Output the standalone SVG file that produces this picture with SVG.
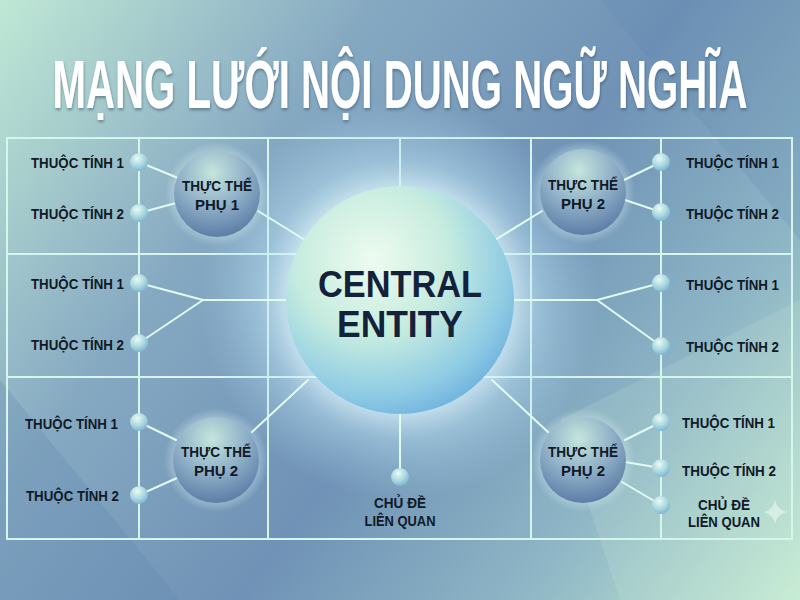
<svg xmlns="http://www.w3.org/2000/svg" width="800" height="600" viewBox="0 0 800 600">
  <defs>
    <linearGradient id="bg" x1="0" y1="0" x2="800" y2="600" gradientUnits="userSpaceOnUse">
      <stop offset="0" stop-color="#c0e8d5"/>
      <stop offset="0.3" stop-color="#86a9c2"/>
      <stop offset="0.55" stop-color="#6f92b6"/>
      <stop offset="0.78" stop-color="#8fb7c6"/>
      <stop offset="1" stop-color="#c6ecd3"/>
    </linearGradient>
    <radialGradient id="glow" cx="400" cy="300" r="200" gradientUnits="userSpaceOnUse">
      <stop offset="0.5" stop-color="#e8fbff" stop-opacity="0.9"/>
      <stop offset="0.7" stop-color="#bfe6f5" stop-opacity="0.45"/>
      <stop offset="1" stop-color="#a8d4ee" stop-opacity="0"/>
    </radialGradient>
    <radialGradient id="central" cx="0.38" cy="0.32" r="0.75">
      <stop offset="0" stop-color="#eefbef"/>
      <stop offset="0.45" stop-color="#c6ecdf"/>
      <stop offset="0.8" stop-color="#8ecbe4"/>
      <stop offset="1" stop-color="#6aaede"/>
    </radialGradient>
    <radialGradient id="sub" cx="0.45" cy="0.25" r="0.8">
      <stop offset="0" stop-color="#c5e6dc"/>
      <stop offset="0.5" stop-color="#8fb0c8"/>
      <stop offset="1" stop-color="#5776a2"/>
    </radialGradient>
    <radialGradient id="subglow" cx="0.5" cy="0.5" r="0.5">
      <stop offset="0.7" stop-color="#dff6f3" stop-opacity="0.5"/>
      <stop offset="1" stop-color="#dff6f3" stop-opacity="0"/>
    </radialGradient>
    <radialGradient id="dot" cx="0.4" cy="0.3" r="0.7">
      <stop offset="0" stop-color="#eafaf3"/>
      <stop offset="0.6" stop-color="#a9d8e0"/>
      <stop offset="1" stop-color="#7fb6d2"/>
    </radialGradient>
    <filter id="tshadow" x="-5%" y="-60%" width="110%" height="220%">
      <feDropShadow dx="1" dy="2" stdDeviation="1.5" flood-color="#2a3f5a" flood-opacity="0.5"/>
    </filter>
    <style>
      .grid { stroke: #d6f6ec; stroke-width: 2; fill: none; }
      .conn { stroke: #e0fbf2; stroke-width: 2; fill: none; stroke-linecap: round; }
      .lbl { font-family: "Liberation Sans", Arial, sans-serif; font-weight: bold; font-size: 15px; fill: #101a26; }
      .sublbl { font-family: "Liberation Sans", Arial, sans-serif; font-weight: bold; font-size: 15px; fill: #101a26; text-anchor: middle; }
      .dot { fill: url(#dot); }
      .sub { fill: url(#sub); }
    </style>
  </defs>

  <rect width="800" height="600" fill="url(#bg)"/>
  <polygon points="0,380 180,600 0,600" fill="#5d82ad" opacity="0.25"/>
  <polygon points="600,0 800,0 800,240" fill="#5f85b0" opacity="0.2"/>
  <polygon points="560,420 800,300 800,600 620,600" fill="#d4f2e0" opacity="0.15"/>

  <g transform="translate(400,108) scale(0.6,1)" filter="url(#tshadow)">
    <text x="0" y="0" text-anchor="middle" textLength="1158" lengthAdjust="spacingAndGlyphs" font-family="Liberation Sans, Arial, sans-serif" font-weight="bold" font-size="68" fill="#ffffff">MẠNG LƯỚI NỘI DUNG NGỮ NGHĨA</text>
  </g>

  <g id="grid">
    <rect x="7" y="138" width="785" height="401" class="grid"/>
    <line x1="139" y1="138" x2="139" y2="539" class="grid"/>
    <line x1="268" y1="138" x2="268" y2="539" class="grid"/>
    <line x1="531" y1="138" x2="531" y2="539" class="grid"/>
    <line x1="661" y1="138" x2="661" y2="539" class="grid"/>
    <line x1="7" y1="254" x2="792" y2="254" class="grid"/>
    <line x1="7" y1="377" x2="792" y2="377" class="grid"/>
    <line x1="400" y1="138" x2="400" y2="190" class="grid"/>
  </g>

  <circle cx="400" cy="300" r="200" fill="url(#glow)"/>

  <g id="connectors">
    <line x1="139" y1="162" x2="178" y2="178" class="conn"/>
    <line x1="139" y1="213" x2="176" y2="203" class="conn"/>
    <line x1="258" y1="211" x2="305" y2="240" class="conn"/>
    <line x1="661" y1="162" x2="624" y2="180" class="conn"/>
    <line x1="661" y1="212" x2="625" y2="200" class="conn"/>
    <line x1="542" y1="211" x2="495" y2="240" class="conn"/>
    <polyline points="290,300 203,300 139,283" class="conn"/>
    <line x1="203" y1="300" x2="139" y2="343" class="conn"/>
    <polyline points="510,300 597,300 661,283" class="conn"/>
    <line x1="597" y1="300" x2="661" y2="346" class="conn"/>
    <line x1="139" y1="422" x2="176" y2="440" class="conn"/>
    <line x1="139" y1="495" x2="177" y2="478" class="conn"/>
    <line x1="252" y1="432" x2="308" y2="380" class="conn"/>
    <line x1="548" y1="432" x2="492" y2="380" class="conn"/>
    <line x1="661" y1="422" x2="625" y2="440" class="conn"/>
    <line x1="661" y1="468" x2="625" y2="462" class="conn"/>
    <line x1="661" y1="505" x2="622" y2="482" class="conn"/>
    <line x1="400" y1="410" x2="400" y2="470" class="conn"/>
  </g>

  <g id="central-entity">
    <circle cx="400" cy="300" r="114" fill="url(#central)"/>
    <text x="400" y="297" text-anchor="middle" textLength="164" lengthAdjust="spacingAndGlyphs" font-family="Liberation Sans, Arial, sans-serif" font-weight="bold" font-size="36" fill="#14213a">CENTRAL</text>
    <text x="400" y="337" text-anchor="middle" textLength="126" lengthAdjust="spacingAndGlyphs" font-family="Liberation Sans, Arial, sans-serif" font-weight="bold" font-size="36" fill="#14213a">ENTITY</text>
  </g>

  <g id="sub-top-left">
    <circle cx="217" cy="194" r="52" fill="url(#subglow)"/>
    <circle cx="217" cy="194" r="43" class="sub"/>
    <text x="217" y="191" textLength="70" lengthAdjust="spacingAndGlyphs" class="sublbl">THỰC THỂ</text>
    <text x="217" y="210" class="sublbl">PHỤ 1</text>
  </g>
  <g id="sub-top-right">
    <circle cx="583" cy="192" r="52" fill="url(#subglow)"/>
    <circle cx="583" cy="192" r="43" class="sub"/>
    <text x="583" y="190" textLength="70" lengthAdjust="spacingAndGlyphs" class="sublbl">THỰC THỂ</text>
    <text x="583" y="209" class="sublbl">PHỤ 2</text>
  </g>
  <g id="sub-bottom-left">
    <circle cx="216" cy="460" r="52" fill="url(#subglow)"/>
    <circle cx="216" cy="460" r="43" class="sub"/>
    <text x="216" y="457" textLength="70" lengthAdjust="spacingAndGlyphs" class="sublbl">THỰC THỂ</text>
    <text x="216" y="476" class="sublbl">PHỤ 2</text>
  </g>
  <g id="sub-bottom-right">
    <circle cx="583" cy="460" r="52" fill="url(#subglow)"/>
    <circle cx="583" cy="460" r="43" class="sub"/>
    <text x="583" y="457" textLength="70" lengthAdjust="spacingAndGlyphs" class="sublbl">THỰC THỂ</text>
    <text x="583" y="476" class="sublbl">PHỤ 2</text>
  </g>

  <g id="attr-tl-1"><circle cx="139" cy="162" r="9" class="dot"/><text x="124" y="168" text-anchor="end" textLength="93" lengthAdjust="spacingAndGlyphs" class="lbl">THUỘC TÍNH 1</text></g>
  <g id="attr-tl-2"><circle cx="139" cy="213" r="9" class="dot"/><text x="124" y="219" text-anchor="end" textLength="93" lengthAdjust="spacingAndGlyphs" class="lbl">THUỘC TÍNH 2</text></g>
  <g id="attr-ml-1"><circle cx="139" cy="283" r="9" class="dot"/><text x="124" y="289" text-anchor="end" textLength="93" lengthAdjust="spacingAndGlyphs" class="lbl">THUỘC TÍNH 1</text></g>
  <g id="attr-ml-2"><circle cx="139" cy="343" r="9" class="dot"/><text x="124" y="350" text-anchor="end" textLength="93" lengthAdjust="spacingAndGlyphs" class="lbl">THUỘC TÍNH 2</text></g>
  <g id="attr-bl-1"><circle cx="139" cy="422" r="9" class="dot"/><text x="118" y="429" text-anchor="end" textLength="93" lengthAdjust="spacingAndGlyphs" class="lbl">THUỘC TÍNH 1</text></g>
  <g id="attr-bl-2"><circle cx="139" cy="495" r="9" class="dot"/><text x="119" y="501" text-anchor="end" textLength="93" lengthAdjust="spacingAndGlyphs" class="lbl">THUỘC TÍNH 2</text></g>

  <g id="attr-tr-1"><circle cx="661" cy="162" r="9" class="dot"/><text x="686" y="168" textLength="93" lengthAdjust="spacingAndGlyphs" class="lbl">THUỘC TÍNH 1</text></g>
  <g id="attr-tr-2"><circle cx="661" cy="212" r="9" class="dot"/><text x="686" y="219" textLength="93" lengthAdjust="spacingAndGlyphs" class="lbl">THUỘC TÍNH 2</text></g>
  <g id="attr-mr-1"><circle cx="661" cy="283" r="9" class="dot"/><text x="686" y="290" textLength="93" lengthAdjust="spacingAndGlyphs" class="lbl">THUỘC TÍNH 1</text></g>
  <g id="attr-mr-2"><circle cx="661" cy="346" r="9" class="dot"/><text x="686" y="352" textLength="93" lengthAdjust="spacingAndGlyphs" class="lbl">THUỘC TÍNH 2</text></g>
  <g id="attr-br-1"><circle cx="661" cy="422" r="9" class="dot"/><text x="682" y="428" textLength="93" lengthAdjust="spacingAndGlyphs" class="lbl">THUỘC TÍNH 1</text></g>
  <g id="attr-br-2"><circle cx="661" cy="468" r="9" class="dot"/><text x="682" y="476" textLength="94" lengthAdjust="spacingAndGlyphs" class="lbl">THUỘC TÍNH 2</text></g>
  <g id="topic-br"><circle cx="661" cy="505" r="9" class="dot"/>
    <text x="724" y="510" text-anchor="middle" textLength="52" lengthAdjust="spacingAndGlyphs" class="lbl">CHỦ ĐỀ</text>
    <text x="724" y="527" text-anchor="middle" textLength="72" lengthAdjust="spacingAndGlyphs" class="lbl">LIÊN QUAN</text>
  </g>
  <g id="topic-center"><circle cx="400" cy="477" r="9" class="dot"/>
    <text x="400" y="508" text-anchor="middle" textLength="52" lengthAdjust="spacingAndGlyphs" class="lbl">CHỦ ĐỀ</text>
    <text x="400" y="526" text-anchor="middle" textLength="71" lengthAdjust="spacingAndGlyphs" class="lbl">LIÊN QUAN</text>
  </g>

  <path d="M775,500 Q777,510 787,512 Q777,514 775,524 Q773,514 763,512 Q773,510 775,500 Z" fill="#f2fff8" opacity="0.5"/>
</svg>
